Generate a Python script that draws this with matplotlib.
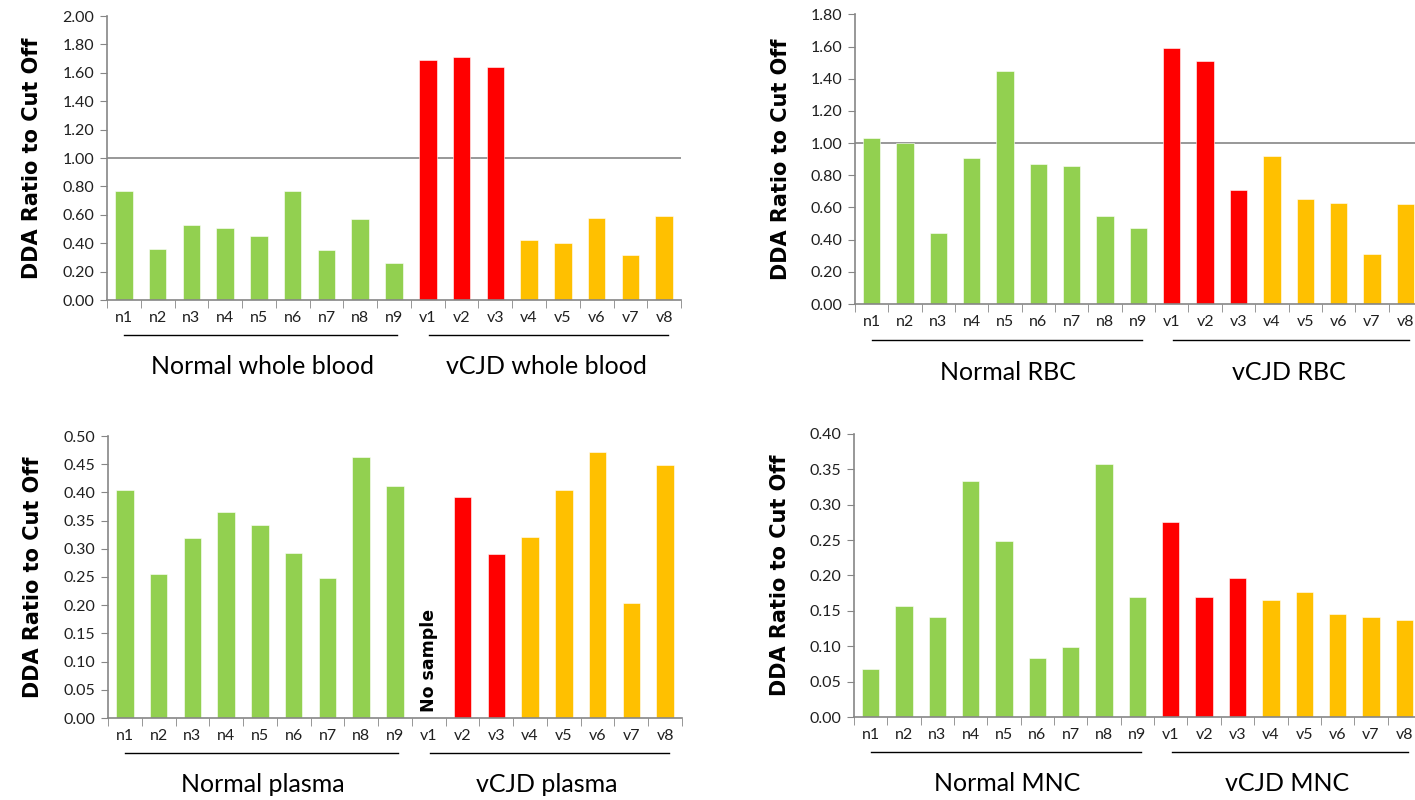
import numpy as np
import matplotlib
matplotlib.use("Agg")
import matplotlib.pyplot as plt
from matplotlib.transforms import blended_transform_factory

samples = ["n1", "n2", "n3", "n4", "n5", "n6", "n7", "n8", "n9",
           "v1", "v2", "v3", "v4", "v5", "v6", "v7", "v8"]
groups = ["normal"] * 9 + ["vcjd_pos"] * 3 + ["vcjd"] * 5

whole_blood = [0.77, 0.36, 0.53, 0.51, 0.45, 0.77, 0.35, 0.57, 0.26,
               1.69, 1.71, 1.64, 0.42, 0.40, 0.58, 0.32, 0.59]
rbc = [1.03, 1.00, 0.44, 0.91, 1.45, 0.87, 0.86, 0.55, 0.47,
       1.59, 1.51, 0.71, 0.92, 0.65, 0.63, 0.31, 0.62]
plasma = [0.405, 0.256, 0.319, 0.366, 0.342, 0.293, 0.249, 0.462, 0.412,
          np.nan, 0.392, 0.290, 0.321, 0.405, 0.472, 0.204, 0.449]
mnc = [0.068, 0.157, 0.141, 0.334, 0.249, 0.084, 0.099, 0.357, 0.170,
       0.276, 0.170, 0.197, 0.166, 0.176, 0.145, 0.141, 0.137]

colors = {"normal": "#92D050", "vcjd_pos": "#FF0000", "vcjd": "#FFC000"}
axis_grey = "#868686"
tick_font = "Lato"

panels = [
    # values, ymax, step, cutoff line, normal label, vcjd label, axes rect
    (whole_blood, 2.0, 0.2, True, "Normal whole blood", "vCJD whole blood",
     [0.0756, 0.625, 0.4057, 0.355]),
    (rbc, 1.8, 0.2, True, "Normal RBC", "vCJD RBC",
     [0.6042, 0.620, 0.4007, 0.362]),
    (plasma, 0.5, 0.05, False, "Normal plasma", "vCJD plasma",
     [0.0763, 0.1025, 0.4057, 0.3525]),
    (mnc, 0.4, 0.05, False, "Normal MNC", "vCJD MNC",
     [0.6035, 0.1037, 0.4007, 0.354]),
]

fig = plt.figure(figsize=(14.15, 8), dpi=100)

for vals, ymax, step, cutoff, lab_n, lab_v, rect in panels:
    ax = fig.add_axes(rect)
    x = np.arange(len(samples))
    ax.bar(x, vals, width=0.52, color=[colors[g] for g in groups],
           edgecolor="white", linewidth=0.4, zorder=2)
    if cutoff:
        ax.axhline(1.0, color=axis_grey, lw=1.2, zorder=1)

    ax.set_xlim(-0.5, len(samples) - 0.5)
    ax.set_ylim(0, ymax)
    yt = np.arange(0, ymax + step / 2, step)
    ax.set_yticks(yt)
    ax.set_yticklabels([f"{t:.2f}" for t in yt], fontfamily=tick_font,
                       fontsize=11.5)
    ax.set_xticks(x)
    ax.set_xticklabels(samples, fontfamily=tick_font, fontsize=11.5)
    ax.set_xticks(np.arange(-0.5, len(samples)), minor=True)
    ax.tick_params(axis="x", which="major", length=0, pad=8, colors="#202020")
    ax.tick_params(axis="x", which="minor", length=6, color=axis_grey)
    ax.tick_params(axis="y", length=5, color=axis_grey, colors="#202020", pad=4)
    for s in ["top", "right"]:
        ax.spines[s].set_visible(False)
    for s in ["left", "bottom"]:
        ax.spines[s].set_color(axis_grey)
        ax.spines[s].set_linewidth(1.2)

    ax.set_ylabel("DDA Ratio to Cut Off", fontsize=15, fontweight="bold")
    ax.yaxis.set_label_coords(-0.113, 0.5)

    trans = blended_transform_factory(ax.transData, ax.transAxes)
    ax.plot([0, 8.1], [-0.123, -0.123], color="black", lw=1, transform=trans,
            clip_on=False)
    ax.plot([9.05, 16.1], [-0.123, -0.123], color="black", lw=1,
            transform=trans, clip_on=False)
    ax.text(4.1, -0.235, lab_n, transform=trans, ha="center", va="center",
            fontfamily=tick_font, fontsize=18)
    ax.text(12.5, -0.235, lab_v, transform=trans, ha="center", va="center",
            fontfamily=tick_font, fontsize=18)

    if np.isnan(vals[9]):
        ax.text(9, ymax * 0.02, "No sample", rotation=90, ha="center",
                va="bottom", fontsize=12.5, fontweight="bold")

fig.savefig("out.png", dpi=100)
